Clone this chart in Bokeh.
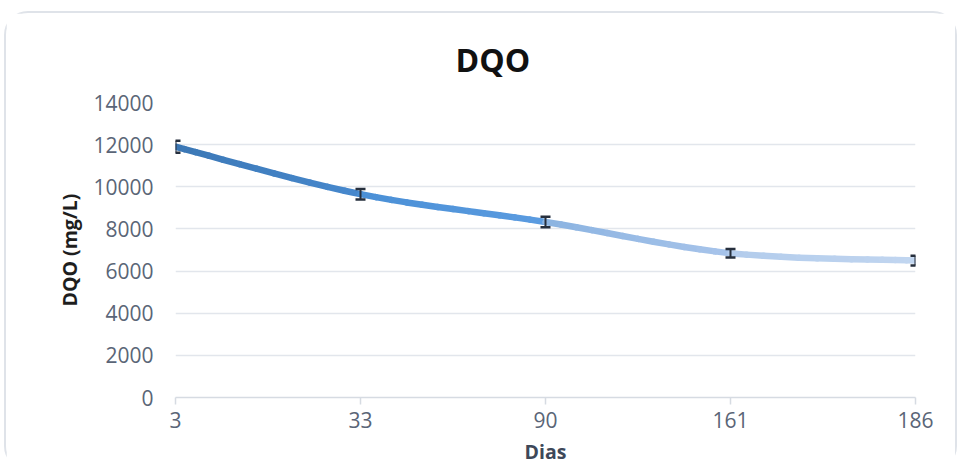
from bokeh.plotting import figure
from bokeh.models import Range1d, FixedTicker, ColumnDataSource
from bokeh.embed import file_html
from bokeh.resources import INLINE

# ---- data ----
dias_labels = ["3", "33", "90", "161", "186"]
dqo_values = [11900, 9650, 8330, 6850, 6500]
dqo_errors = [280, 250, 250, 200, 230]
y_ticks = [0, 2000, 4000, 6000, 8000, 10000, 12000, 14000]

# gradient colours along the line (start, end) for each segment
seg_colors = [("#3a76b3", "#4788cd"), ("#4a8fd6", "#5b9ce0"),
              ("#8bb3e1", "#a7c4ea"), ("#b2ccec", "#c2d6f0")]

FONT = "Open Sans"

x = list(range(len(dias_labels)))

p = figure(width=949, height=455, output_backend="svg", toolbar_location=None,
           x_range=Range1d(0, len(x) - 1), y_range=Range1d(0, 14000),
           min_border_left=169, min_border_right=40, min_border_top=89, min_border_bottom=71,
           background_fill_color="white", border_fill_color="white")
p.styles = {"border-radius": "22px", "outline": "2px solid #dfe3e9",
            "margin-left": "6px", "margin-top": "13px"}
p.outline_line_color = None

p.title.text = "DQO"
p.title.align = "left"
p.title.offset = 280
p.title.text_font = FONT
p.title.text_font_size = "32px"
p.title.text_font_style = "bold"
p.title.text_color = "#111111"
p.title.standoff = 44

# grid
p.xgrid.grid_line_color = None
p.ygrid.grid_line_color = "#e2e6ec"
p.ygrid.grid_line_width = 1.5
p.ygrid.ticker = FixedTicker(ticks=y_ticks)

# y axis
ya = p.yaxis[0]
ya.ticker = FixedTicker(ticks=y_ticks)
ya.axis_line_color = None
ya.major_tick_line_color = None
ya.minor_tick_line_color = None
ya.major_label_standoff = 16
ya.major_label_text_font = FONT
ya.major_label_text_font_size = "21px"
ya.major_label_text_color = "#5a6577"
ya.axis_label = "DQO (mg/L)"
ya.axis_label_text_font = FONT
ya.axis_label_text_font_size = "19.5px"
ya.axis_label_text_font_style = "bold"
ya.axis_label_text_color = "#1e1e1e"
ya.axis_label_standoff = 7

# x axis
xa = p.xaxis[0]
xa.ticker = FixedTicker(ticks=x)
xa.major_label_overrides = {i: lab for i, lab in zip(x, dias_labels)}
xa.axis_line_color = "#d6dbe2"
xa.axis_line_width = 1.5
xa.major_tick_line_color = "#d6dbe2"
xa.major_tick_line_width = 1.5
xa.major_tick_out = 7
xa.major_tick_in = 0
xa.minor_tick_line_color = None
xa.major_label_standoff = 7
xa.major_label_text_font = FONT
xa.major_label_text_font_size = "21px"
xa.major_label_text_color = "#5a6577"
xa.axis_label = "Dias"
xa.axis_label_text_font = FONT
xa.axis_label_text_font_size = "19.5px"
xa.axis_label_text_font_style = "bold"
xa.axis_label_text_color = "#3e4859"
xa.axis_label_standoff = 7


# ---- smoothed line (Catmull-Rom cubic Béziers) with colour gradient ----
def hex_to_rgb(h):
    h = h.lstrip("#")
    return tuple(int(h[i:i + 2], 16) for i in (0, 2, 4))


def mix(c0, c1, t):
    a, b = hex_to_rgb(c0), hex_to_rgb(c1)
    return "#%02x%02x%02x" % tuple(round(a[k] + (b[k] - a[k]) * t) for k in range(3))


n = len(x)
pts = list(zip(x, dqo_values))
N_SUB = 12
x0s, y0s, x1s, y1s, cx0s, cy0s, cx1s, cy1s, cols = ([] for _ in range(9))
for i in range(n - 1):
    p0 = pts[i]
    p3 = pts[i + 1]
    pm = pts[i - 1] if i > 0 else pts[i]
    pp = pts[i + 2] if i + 2 < n else pts[i + 1]
    p1 = (p0[0] + (p3[0] - pm[0]) / 6, p0[1] + (p3[1] - pm[1]) / 6)
    p2 = (p3[0] - (pp[0] - p0[0]) / 6, p3[1] - (pp[1] - p0[1]) / 6)

    def B(t):
        u = 1 - t
        return tuple(u ** 3 * p0[k] + 3 * u * u * t * p1[k] + 3 * u * t * t * p2[k] + t ** 3 * p3[k] for k in range(2))

    def dB(t):
        u = 1 - t
        return tuple(3 * u * u * (p1[k] - p0[k]) + 6 * u * t * (p2[k] - p1[k]) + 3 * t * t * (p3[k] - p2[k]) for k in range(2))

    for j in range(N_SUB):
        a, b = j / N_SUB, (j + 1) / N_SUB
        Ba, Bb, da, db = B(a), B(b), dB(a), dB(b)
        h = (b - a) / 3
        x0s.append(Ba[0]); y0s.append(Ba[1])
        x1s.append(Bb[0]); y1s.append(Bb[1])
        cx0s.append(Ba[0] + h * da[0]); cy0s.append(Ba[1] + h * da[1])
        cx1s.append(Bb[0] - h * db[0]); cy1s.append(Bb[1] - h * db[1])
        cols.append(mix(seg_colors[i][0], seg_colors[i][1], (a + b) / 2))

bez = ColumnDataSource(dict(x0=x0s, y0=y0s, x1=x1s, y1=y1s, cx0=cx0s, cy0=cy0s,
                            cx1=cx1s, cy1=cy1s, color=cols))
p.bezier(x0="x0", y0="y0", x1="x1", y1="y1", cx0="cx0", cy0="cy0", cx1="cx1", cy1="cy1",
         line_color="color", line_width=6.5, line_cap="round", source=bez)

# ---- error bars ----
lo = [v - e for v, e in zip(dqo_values, dqo_errors)]
hi = [v + e for v, e in zip(dqo_values, dqo_errors)]
err = ColumnDataSource(dict(x=x, lo=lo, hi=hi))
p.segment(x0="x", y0="lo", x1="x", y1="hi", line_color="#262f3d", line_width=2, source=err)
p.scatter(x="x", y="hi", marker="dash", size=10, line_color="#262f3d", line_width=2.5, source=err)
p.scatter(x="x", y="lo", marker="dash", size=10, line_color="#262f3d", line_width=2.5, source=err)

open("out.html", "w").write(file_html(p, INLINE))
